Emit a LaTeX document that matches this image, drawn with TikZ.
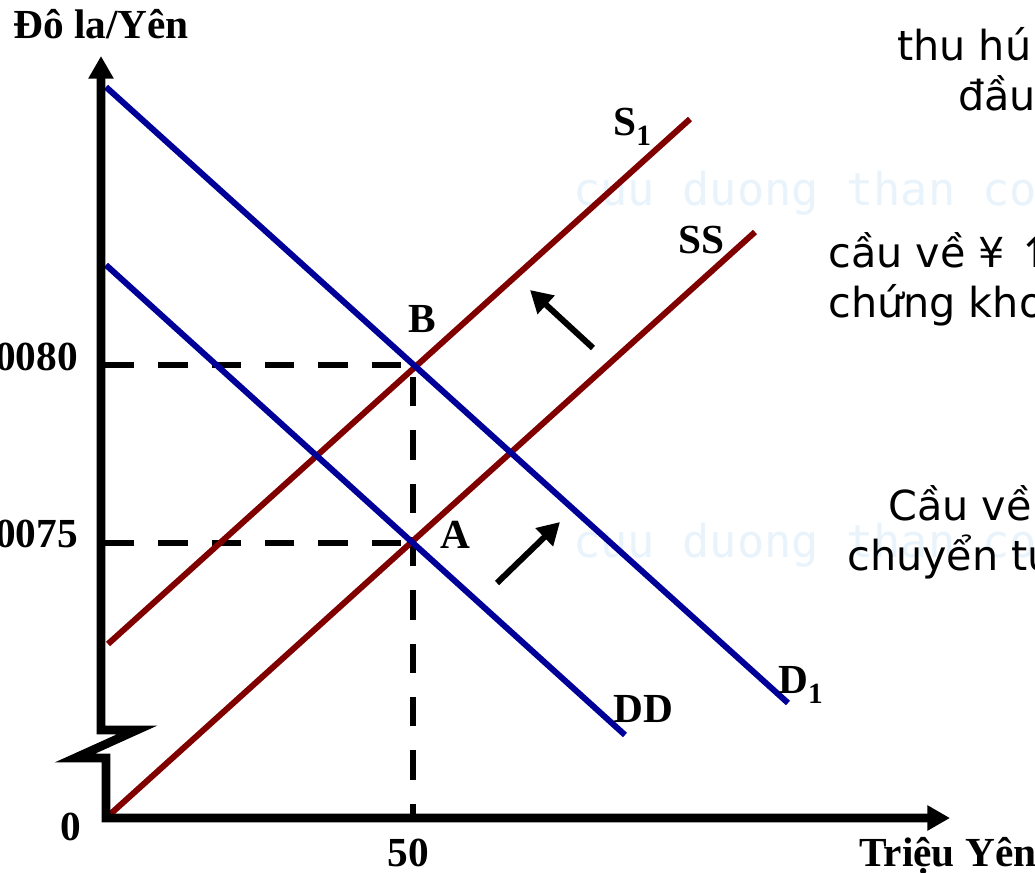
\documentclass[tikz,border=0pt]{standalone}
\usepackage{fontspec}
\setmainfont{Liberation Serif}
\newfontfamily\sansv{DejaVu Sans}
\newfontfamily\monow{DejaVu Sans Mono}
\usetikzlibrary{arrows.meta}
\definecolor{dblue}{RGB}{0,0,153}
\definecolor{dred}{RGB}{128,0,0}
\definecolor{wmark}{RGB}{232,243,251}
\newcommand{\lowsub}[1]{\raisebox{-7.5pt}{\fontsize{22}{22}\selectfont #1}}
\tikzset{
  axisline/.style={line width=6.5pt, line join=miter,
    {Triangle[length=17pt,width=18pt]}-{Triangle[length=17pt,width=18pt]}},
  demand/.style={line width=4.5pt, dblue},
  supply/.style={line width=4.5pt, dred},
  guide/.style={line width=5pt, dash pattern=on 22pt off 18pt},
  shiftarrow/.style={line width=4.5pt, -{Triangle[length=16.5pt,width=18pt]}},
  lab/.style={inner sep=0pt, font=\bfseries\fontsize{31}{36}\selectfont},
  txt/.style={inner sep=0pt, anchor=base west, font=\sansv\fontsize{31}{36}\selectfont},
  wm/.style={inner sep=0pt, anchor=base west, text=wmark, font=\monow\fontsize{34}{40}\selectfont}
}
\begin{document}
\begin{tikzpicture}[x=0.75pt, y=-0.75pt]
\useasboundingbox (0,0) rectangle (1035,872);
% watermark
\node[wm] (wm1) at (573,205) {cuu duong than co};
\node[wm] (wm2) at (573,557) {cuu duong than co};
% key points
\coordinate (ytop) at (101,56);
\coordinate (b1) at (101,730);
\coordinate (b2) at (137,730);
\coordinate (b3) at (75,758);
\coordinate (b4) at (106,758);
\coordinate (O) at (106,818);
\coordinate (xend) at (950,818);
\coordinate (pB) at (413,365);
\coordinate (pA) at (412,543);
\coordinate (yB) at (105,365);
\coordinate (yA) at (105,543);
\coordinate (x50) at (413,818);
% guides
\draw[guide] (yB) -- (pB) -- (x50);
\draw[guide] (yA) -- (pA);
% curves
\coordinate (d1s) at (106,87);
\coordinate (d1e) at (788,703);
\coordinate (dds) at (106,265);
\coordinate (dde) at (625,735);
\coordinate (sss) at (106,818);
\coordinate (sse) at (755,232);
\coordinate (s1s) at (108,644);
\coordinate (s1e) at (690,119);
\draw[supply] (sss) -- (sse);
\draw[supply] (s1s) -- (s1e);
\draw[demand] (d1s) -- (d1e);
\draw[demand] (dds) -- (dde);
% axes
\draw[axisline] (ytop) -- (b1) -- (b2) -- (b3) -- (b4) -- (O) -- (xend);
% shift arrows
\coordinate (u1) at (593,348);
\coordinate (u2) at (530,290);
\coordinate (l1) at (497,583);
\coordinate (l2) at (560,522);
\draw[shiftarrow] (u1) -- (u2);
\draw[shiftarrow] (l1) -- (l2);
% labels
\node[lab, anchor=base west] (ylab) at (13,38) {Đô la/Yên};
\node[lab, anchor=base east] (v80) at (78,370) {0080};
\node[lab, anchor=base east] (v75) at (78,547) {0075};
\node[lab, anchor=base] (zero) at (71,840) {0};
\node[lab, anchor=base] (fifty) at (408,866) {50};
\node[lab, anchor=base west] (xlab) at (859,866) {Triệu Yên};
\node[lab, anchor=base west] (Blab) at (408,332) {B};
\node[lab, anchor=base west] (Alab) at (440,548) {A};
\node[lab, anchor=base west] (S1lab) at (613,135) {S\lowsub{1}};
\node[lab, anchor=base west] (SSlab) at (678,253) {SS};
\node[lab, anchor=base west] (DDlab) at (613,722) {DD};
\node[lab, anchor=base west] (D1lab) at (778,693) {D\lowsub{1}};
% right texts
\node[txt] (t1) at (897,60) {thu hú};
\node[txt] (t2) at (958,110) {đầu};
\node[txt] (t3) at (828,267) {cầu về ¥ ↑};
\node[txt] (t4) at (828,317) {chứng kho};
\node[txt] (t5) at (888,520) {Cầu về};
\node[txt] (t6) at (847,570) {chuyển tư};
\end{tikzpicture}
\end{document}
